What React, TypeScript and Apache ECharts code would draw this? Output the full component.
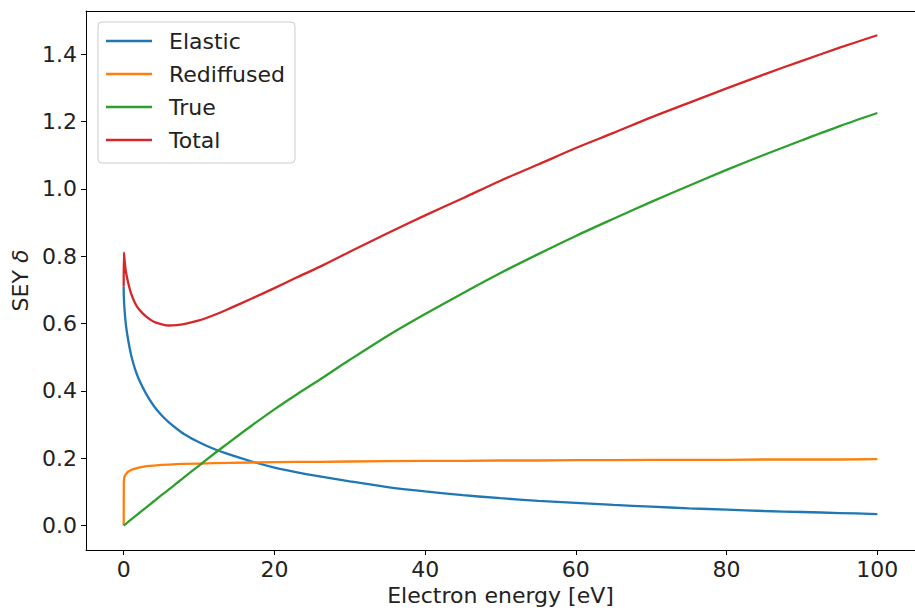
import React, { useEffect, useRef } from "react";
import * as echarts from "echarts";

const energy = [0, 0.02, 0.1, 0.3, 0.6, 1, 1.5, 2, 3, 4, 5, 6, 7, 8, 10, 12, 14, 17, 20, 23, 26, 30, 35, 40, 45, 50, 55, 60, 65, 70, 75, 80, 85, 90, 95, 100];
const elastic = [0.71, 0.68, 0.645, 0.595, 0.55, 0.505, 0.465, 0.435, 0.39, 0.355, 0.328, 0.306, 0.288, 0.272, 0.247, 0.227, 0.211, 0.19, 0.172, 0.158, 0.146, 0.131, 0.114, 0.101, 0.09, 0.081, 0.073, 0.067, 0.061, 0.056, 0.051, 0.047, 0.043, 0.04, 0.037, 0.034];
const rediffused = [0, 0.13, 0.145, 0.153, 0.16, 0.165, 0.169, 0.172, 0.176, 0.178, 0.18, 0.181, 0.182, 0.183, 0.184, 0.185, 0.186, 0.187, 0.188, 0.189, 0.189, 0.19, 0.191, 0.192, 0.192, 0.193, 0.193, 0.194, 0.194, 0.195, 0.195, 0.195, 0.196, 0.196, 0.196, 0.197];
const trueSec = [0, 0, 0.002, 0.005, 0.011, 0.018, 0.027, 0.036, 0.054, 0.072, 0.09, 0.107, 0.125, 0.143, 0.178, 0.213, 0.247, 0.297, 0.345, 0.39, 0.433, 0.492, 0.563, 0.628, 0.69, 0.75, 0.806, 0.86, 0.911, 0.961, 1.009, 1.056, 1.101, 1.144, 1.186, 1.225];
const total = [0.71, 0.81, 0.792, 0.753, 0.721, 0.688, 0.661, 0.643, 0.62, 0.605, 0.598, 0.594, 0.595, 0.598, 0.609, 0.625, 0.644, 0.674, 0.705, 0.737, 0.768, 0.813, 0.868, 0.921, 0.972, 1.024, 1.072, 1.121, 1.166, 1.212, 1.255, 1.298, 1.34, 1.38, 1.419, 1.456];

const xTicks = [0, 20, 40, 60, 80, 100];
const yTicks = [0, 0.2, 0.4, 0.6, 0.8, 1.0, 1.2, 1.4];

const seriesNames = ["Elastic", "Rediffused", "True", "Total"];
const seriesColors = ["#1f77b4", "#ff7f0e", "#2ca02c", "#d62728"];
const seriesSmooth = [0.3, false, 0.3, 0.3];

const FONT = "DejaVu Sans";

export default function App() {
  const ref = useRef<HTMLDivElement>(null);
  useEffect(() => {
    if (!ref.current) return;
    const chart = echarts.init(ref.current, null, { renderer: "svg" });
    const all = [elastic, rediffused, trueSec, total];
    const series = all.map((vals, i) => ({
      name: seriesNames[i],
      type: "line",
      xAxisIndex: 0,
      yAxisIndex: 0,
      data: energy.map((x, j) => [x, vals[j]]),
      showSymbol: false,
      symbol: "none",
      lineStyle: { color: seriesColors[i], width: 2.3 },
      itemStyle: { color: seriesColors[i] },
      smooth: seriesSmooth[i],
      z: 2 + i,
    }));
    chart.setOption({
      animation: false,
      backgroundColor: "#ffffff",
      textStyle: { fontFamily: FONT },
      grid: {
        left: 86,
        right: -1,
        top: 11,
        bottom: 62,
        show: false,
      },
      legend: {
        orient: "vertical",
        left: 98,
        top: 22,
        data: seriesNames,
        icon: "rect",
        itemWidth: 46,
        itemHeight: 2.5,
        itemGap: 7,
        padding: [6, 10, 10, 8],
        borderColor: "#cccccc",
        borderWidth: 1,
        borderRadius: 4,
        backgroundColor: "rgba(255,255,255,0.8)",
        textStyle: {
          fontFamily: FONT,
          fontSize: 22,
          color: "#222",
          lineHeight: 26,
          padding: [0, 0, 0, 12],
        },
      },
      xAxis: [
        {
          type: "value",
          min: -5,
          max: 105,
          name: "Electron energy [eV]",
          nameLocation: "middle",
          nameGap: 32,
          nameTextStyle: { fontFamily: FONT, fontSize: 22, color: "#222" },
          splitLine: { show: false },
          axisLine: { show: true, onZero: false, lineStyle: { color: "#000", width: 1 } },
          axisTick: { show: true, inside: false, length: 5, lineStyle: { color: "#000" }, customValues: xTicks },
          axisLabel: { fontFamily: FONT, fontSize: 22, color: "#222", margin: 8, customValues: xTicks },
        },
        {
          type: "value",
          position: "top",
          min: -5,
          max: 105,
          splitLine: { show: false },
          axisLine: { show: true, onZero: false, lineStyle: { color: "#000", width: 1 } },
          axisTick: { show: false },
          axisLabel: { show: false },
        },
      ],
      yAxis: {
        type: "value",
        min: -0.0728,
        max: 1.528,
        name: "SEY {i|δ}",
        nameLocation: "middle",
        nameRotate: 90,
        nameGap: 50,
        nameTextStyle: {
          fontFamily: FONT,
          fontSize: 22,
          color: "#222",
          rich: { i: { fontFamily: FONT, fontSize: 22, fontStyle: "italic", color: "#222" } },
        },
        splitLine: { show: false },
        axisLine: { show: true, onZero: false, lineStyle: { color: "#000", width: 1 } },
        axisTick: { show: true, inside: false, length: 5, lineStyle: { color: "#000" }, customValues: yTicks },
        axisLabel: {
          fontFamily: FONT,
          fontSize: 22,
          color: "#222",
          margin: 9,
          customValues: yTicks,
          formatter: (v: number) => v.toFixed(1),
        },
      },
      series,
    });
    return () => chart.dispose();
  }, []);
  return (
    <div
      ref={ref}
      style={{ position: "fixed", left: 0, top: 0, width: 915, height: 612, background: "#fff" }}
    />
  );
}
